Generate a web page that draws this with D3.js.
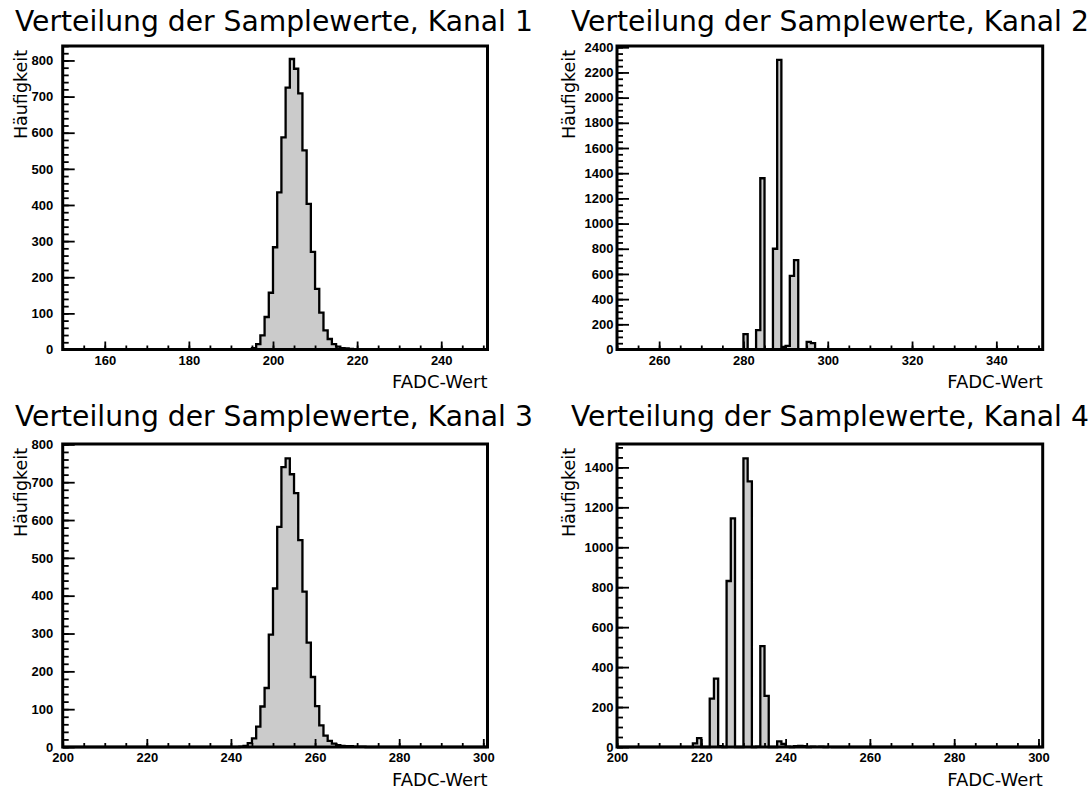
<!DOCTYPE html>
<html>
<head>
<meta charset="utf-8">
<script src="https://cdn.jsdelivr.net/npm/d3@7/dist/d3.min.js"></script>
<style>
  body { margin: 0; background: #fff; }
  svg { display: block; }
</style>
</head>
<body>
<div id="chart"></div>
<script>
// titles / axis labels
const titles = [
  "Verteilung der Samplewerte, Kanal 1",
  "Verteilung der Samplewerte, Kanal 2",
  "Verteilung der Samplewerte, Kanal 3",
  "Verteilung der Samplewerte, Kanal 4"
];
const xLabel = "FADC-Wert";
const yLabel = "Häufigkeit";

// histogram contents (bin lower edge, width 1)
const kanal1Bins   = [193, 194, 195, 196, 197, 198, 199, 200, 201, 202, 203, 204, 205, 206, 207, 208, 209, 210, 211, 212, 213, 214, 215, 216, 217, 218, 219, 220, 221, 222];
const kanal1Counts = [0, 1, 4, 15, 39, 90, 157, 283, 435, 587, 725, 804, 777, 709, 551, 403, 270, 168, 102, 53, 29, 15, 8, 4, 3, 2, 1, 1, 1, 0];

const kanal2Bins   = [279, 280, 281, 282, 283, 284, 285, 286, 287, 288, 289, 290, 291, 292, 293, 294, 295, 296, 297, 298, 299, 300, 301];
const kanal2Counts = [0, 122, 0, 0, 154, 1360, 0, 0, 800, 2300, 20, 28, 585, 710, 0, 0, 60, 50, 3, 0, 0, 2, 0];

const kanal3Bins   = [241, 242, 243, 244, 245, 246, 247, 248, 249, 250, 251, 252, 253, 254, 255, 256, 257, 258, 259, 260, 261, 262, 263, 264, 265, 266, 267, 268, 269, 270, 271, 272];
const kanal3Counts = [0, 1, 3, 10, 23, 54, 107, 156, 297, 419, 582, 740, 763, 721, 671, 547, 411, 276, 185, 108, 57, 30, 16, 9, 5, 3, 2, 2, 1, 1, 1, 0];

const kanal4Bins   = [217, 218, 219, 220, 221, 222, 223, 224, 225, 226, 227, 228, 229, 230, 231, 232, 233, 234, 235, 236, 237, 238, 239, 240, 241, 242, 243, 244, 245, 246, 247, 248, 249, 250, 251];
const kanal4Counts = [0, 18, 44, 0, 0, 242, 342, 4, 0, 831, 1145, 0, 0, 1445, 1330, 0, 2, 505, 256, 0, 0, 28, 15, 2, 0, 4, 5, 4, 0, 2, 1, 2, 0, 1, 0];

// tick values
const xTicks1 = [160, 180, 200, 220, 240];
const xTicks2 = [260, 280, 300, 320, 340];
const xTicks34 = [200, 220, 240, 260, 280, 300];
const yTicks1 = [0, 100, 200, 300, 400, 500, 600, 700, 800];
const yTicks2 = [0, 200, 400, 600, 800, 1000, 1200, 1400, 1600, 1800, 2000, 2200, 2400];
const yTicks3 = [0, 100, 200, 300, 400, 500, 600, 700, 800];
const yTicks4 = [0, 200, 400, 600, 800, 1000, 1200, 1400];

const W = 1090, H = 789;

const svg = d3.select("#chart")
  .append("svg")
  .attr("width", W)
  .attr("height", H);

// panel layout
const panels = [
  { title: titles[0], bins: kanal1Bins, counts: kanal1Counts, xDomain: [150, 251], yMax: 840,
    xTicks: xTicks1, yTicks: yTicks1, xMinorStep: 5, yMinorStep: 20,
    left: 62.7, right: 487.5, top: 46, bottom: 349.5, labelGap: 9.5,
    titleX: 15, titleY: 31, yTitleX: 27 },
  { title: titles[1], bins: kanal2Bins, counts: kanal2Counts, xDomain: [250, 351], yMax: 2410,
    xTicks: xTicks2, yTicks: yTicks2, xMinorStep: 5, yMinorStep: 50,
    left: 617, right: 1042.7, top: 46, bottom: 349.5, labelGap: 3.5,
    titleX: 571, titleY: 31, yTitleX: 575 },
  { title: titles[2], bins: kanal3Bins, counts: kanal3Counts, xDomain: [200, 301], yMax: 801,
    xTicks: xTicks34, yTicks: yTicks3, xMinorStep: 5, yMinorStep: 20,
    left: 62.7, right: 487.5, top: 444, bottom: 747, labelGap: 9.5,
    titleX: 15, titleY: 426, yTitleX: 27 },
  { title: titles[3], bins: kanal4Bins, counts: kanal4Counts, xDomain: [200, 301], yMax: 1517,
    xTicks: xTicks34, yTicks: yTicks4, xMinorStep: 5, yMinorStep: 50,
    left: 617, right: 1042.7, top: 444, bottom: 747, labelGap: 3.5,
    titleX: 571, titleY: 426, yTitleX: 575 }
];

// title font size so that the title is ~518px wide
const probe = svg.append("text")
  .style("font-family", "DejaVu Sans")
  .style("font-size", "100px")
  .text(titles[0]);
const titleSize = 100 * 518 / probe.node().getComputedTextLength();
probe.remove();

function drawPanel(p) {
  const g = svg.append("g");

  const x = d3.scaleLinear().domain(p.xDomain).range([p.left, p.right]);
  const y = d3.scaleLinear().domain([0, p.yMax]).range([p.bottom, p.top]);

  // step points of the histogram
  const pts = [[p.xDomain[0], 0]];
  p.bins.forEach((b, i) => pts.push([b, p.counts[i]]));
  pts.push([p.bins[p.bins.length - 1] + 1, 0]);
  pts.push([p.xDomain[1], 0]);

  const area = d3.area()
    .x(d => x(d[0]))
    .y0(y(0))
    .y1(d => y(d[1]))
    .curve(d3.curveStepAfter);

  const line = d3.line()
    .x(d => x(d[0]))
    .y(d => y(d[1]))
    .curve(d3.curveStepAfter);

  g.append("path")
    .datum(pts)
    .attr("fill", "#cbcbcb")
    .attr("d", area);

  g.append("path")
    .datum(pts)
    .attr("fill", "none")
    .attr("stroke", "#000")
    .attr("stroke-width", 2.3)
    .attr("stroke-linejoin", "miter")
    .attr("d", line);

  // minor ticks
  const xMinor = d3.range(p.xDomain[0], p.xDomain[1] + 0.001, p.xMinorStep)
    .filter(v => v >= p.xDomain[0] && v <= p.xDomain[1] - 0.5);
  const yMinor = d3.range(0, p.yMax + 0.001, p.yMinorStep);

  g.append("g")
    .attr("transform", `translate(0,${p.bottom})`)
    .call(d3.axisBottom(x).tickValues(xMinor).tickSize(-4).tickFormat(""))
    .call(a => a.select(".domain").remove())
    .call(a => a.selectAll("line").attr("stroke-width", 1.8));

  g.append("g")
    .attr("transform", `translate(${p.left},0)`)
    .call(d3.axisLeft(y).tickValues(yMinor).tickSize(-6).tickFormat(""))
    .call(a => a.select(".domain").remove())
    .call(a => a.selectAll("line").attr("stroke-width", 1.8));

  // major ticks with labels
  const xAxis = g.append("g")
    .attr("transform", `translate(0,${p.bottom})`)
    .call(d3.axisBottom(x).tickValues(p.xTicks).tickSize(-8).tickPadding(6).tickFormat(d3.format("d")));
  xAxis.select(".domain").remove();
  xAxis.selectAll("line").attr("stroke-width", 1.8);

  const yAxis = g.append("g")
    .attr("transform", `translate(${p.left},0)`)
    .call(d3.axisLeft(y).tickValues(p.yTicks).tickSize(-12).tickPadding(p.labelGap).tickFormat(d3.format("d")));
  yAxis.select(".domain").remove();
  yAxis.selectAll("line").attr("stroke-width", 1.8);

  g.selectAll(".tick text")
    .style("font-family", "Liberation Sans, Arial, sans-serif")
    .style("font-weight", "bold")
    .style("font-size", "13px")
    .attr("fill", "#000");

  // frame
  g.append("rect")
    .attr("x", p.left)
    .attr("y", p.top)
    .attr("width", p.right - p.left)
    .attr("height", p.bottom - p.top)
    .attr("fill", "none")
    .attr("stroke", "#000")
    .attr("stroke-width", 3);

  // title
  g.append("text")
    .attr("x", p.titleX)
    .attr("y", p.titleY)
    .style("font-family", "DejaVu Sans")
    .style("font-size", titleSize + "px")
    .text(p.title);

  // x axis title
  g.append("text")
    .attr("x", p.right)
    .attr("y", p.bottom + 38.5)
    .attr("text-anchor", "end")
    .style("font-family", "DejaVu Sans")
    .style("font-size", "18px")
    .text(xLabel);

  // y axis title
  g.append("text")
    .attr("transform", `translate(${p.yTitleX},${p.top + 4}) rotate(-90)`)
    .attr("text-anchor", "end")
    .style("font-family", "DejaVu Sans")
    .style("font-size", "17.5px")
    .text(yLabel);
}

panels.forEach(drawPanel);
</script>
</body>
</html>
